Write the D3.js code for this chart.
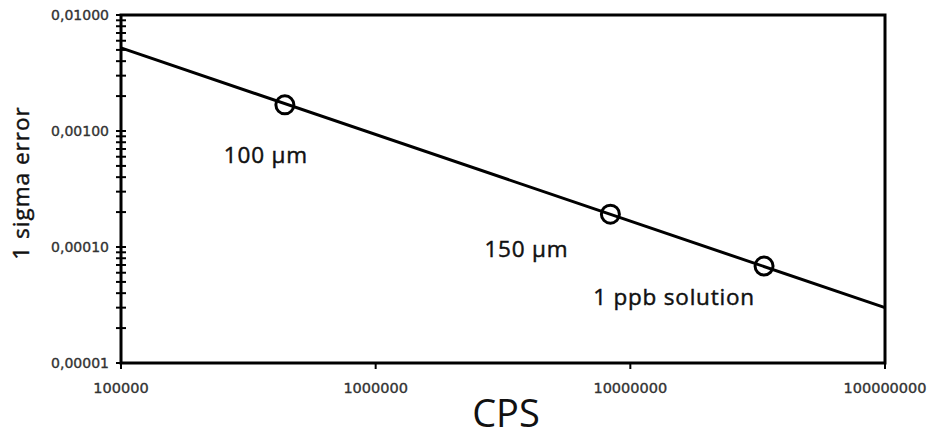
<!DOCTYPE html>
<html>
<head>
<meta charset="utf-8">
<script src="https://cdn.jsdelivr.net/npm/d3@7"></script>
<style>
  body { margin: 0; background: #fff; }
  svg text { font-family: "DejaVu Sans", Verdana, sans-serif; }
</style>
</head>
<body>
<div id="chart"></div>
<script>
// axis ranges (log)
const xDomain = [1e5, 1e8];
const yDomain = [1e-5, 1e-2];
const xTicks = [1e5, 1e6, 1e7, 1e8];
const xTickLabels = ['100000', '1000000', '10000000', '100000000'];
const yTicks = [1e-2, 1e-3, 1e-4, 1e-5];
const yTickLabels = ['0,01000', '0,00100', '0,00010', '0,00001'];

// fitted line
const lineX = [1e5, 1e8];
const lineY = [5.2e-3, 3.0e-5];

// measured points
const pointNames = ['100 µm', '150 µm', '1 ppb solution'];
const pointX = [4.4e5, 8.35e6, 3.35e7];
const pointY = [1.68e-3, 1.92e-4, 6.85e-5];

const W = 929, H = 437;
const margin = { left: 121, right: 44, top: 15, bottom: 74 };

const svg = d3.select('#chart').append('svg')
  .attr('width', W)
  .attr('height', H);

const x = d3.scaleLog().domain(xDomain).range([margin.left, W - margin.right]);
const y = d3.scaleLog().domain(yDomain).range([H - margin.bottom, margin.top]);

// frame
svg.append('rect')
  .attr('x', x(xDomain[0]))
  .attr('y', y(yDomain[1]))
  .attr('width', x(xDomain[1]) - x(xDomain[0]))
  .attr('height', y(yDomain[0]) - y(yDomain[1]))
  .attr('fill', 'none')
  .attr('stroke', '#000')
  .attr('stroke-width', 3);

// y minor + major ticks, crossing the axis
const yMinor = [];
for (let e = -5; e < -2; e++) {
  for (let m = 1; m < 10; m++) yMinor.push(m * Math.pow(10, e));
}
yMinor.push(1e-2);
svg.append('g').selectAll('line')
  .data(yMinor)
  .join('line')
  .attr('x1', x(xDomain[0]) - 5)
  .attr('x2', x(xDomain[0]) + 5)
  .attr('y1', d => y(d))
  .attr('y2', d => y(d))
  .attr('stroke', '#000')
  .attr('stroke-width', 2);

svg.append('g').selectAll('text')
  .data(yTicks)
  .join('text')
  .attr('x', x(xDomain[0]) - 12)
  .attr('y', d => y(d) + 5)
  .attr('text-anchor', 'end')
  .attr('font-size', 14)
  .attr('fill', '#333')
  .attr('stroke', '#333')
  .attr('stroke-width', 0.35)
  .text((d, i) => yTickLabels[i]);

// x ticks
svg.append('g').selectAll('line')
  .data(xTicks)
  .join('line')
  .attr('x1', d => x(d))
  .attr('x2', d => x(d))
  .attr('y1', y(yDomain[0]))
  .attr('y2', y(yDomain[0]) + 6)
  .attr('stroke', '#000')
  .attr('stroke-width', 2);

svg.append('g').selectAll('text')
  .data(xTicks)
  .join('text')
  .attr('x', d => x(d))
  .attr('y', y(yDomain[0]) + 30)
  .attr('text-anchor', 'middle')
  .attr('font-size', 14.5)
  .attr('fill', '#333')
  .attr('stroke', '#333')
  .attr('stroke-width', 0.35)
  .text((d, i) => xTickLabels[i]);

// axis titles
svg.append('text')
  .attr('x', 506)
  .attr('y', 427)
  .attr('text-anchor', 'middle')
  .attr('font-size', 38)
  .style('font-family', '"Open Sans", sans-serif')
  .attr('fill', '#111')
  .text('CPS');

svg.append('text')
  .attr('transform', 'translate(29,183) rotate(-90)')
  .attr('text-anchor', 'middle')
  .attr('font-size', 22.5)
  .attr('letter-spacing', 1)
  .style('font-family', '"Open Sans", sans-serif')
  .attr('fill', '#111')
  .attr('stroke', '#111')
  .attr('stroke-width', 0.45)
  .text('1 sigma error');

// line
const lineData = lineX.map((v, i) => [v, lineY[i]]);
svg.append('path')
  .datum(lineData)
  .attr('d', d3.line().x(d => x(d[0])).y(d => y(d[1])))
  .attr('fill', 'none')
  .attr('stroke', '#000')
  .attr('stroke-width', 3);

// points
const pts = pointX.map((v, i) => ({ x: v, y: pointY[i], name: pointNames[i] }));
svg.append('g').selectAll('circle')
  .data(pts)
  .join('circle')
  .attr('cx', d => x(d.x))
  .attr('cy', d => y(d.y))
  .attr('r', 9)
  .attr('fill', 'none')
  .attr('stroke', '#000')
  .attr('stroke-width', 3);

// point labels (offset from each point)
const labelDx = [-19, -84, -90];
const labelDy = [58, 43, 39];
svg.append('g').selectAll('text')
  .data(pts)
  .join('text')
  .attr('x', (d, i) => x(d.x) + labelDx[i])
  .attr('y', (d, i) => y(d.y) + labelDy[i])
  .attr('text-anchor', 'middle')
  .attr('font-size', 22.5)
  .attr('letter-spacing', 0.8)
  .style('font-family', '"Open Sans", sans-serif')
  .attr('fill', '#111')
  .attr('stroke', '#111')
  .attr('stroke-width', 0.45)
  .text(d => d.name);
</script>
</body>
</html>
